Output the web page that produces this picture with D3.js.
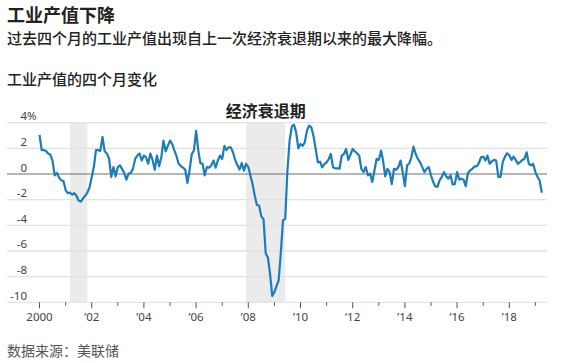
<!DOCTYPE html>
<html>
<head>
<meta charset="utf-8">
<script src="https://cdn.jsdelivr.net/npm/d3@7"></script>
<style>
  body { margin: 0; background: #fff; }
  svg { display: block; font-family: "Noto Sans CJK SC", "Noto Sans", sans-serif; }
  .num { font-family: "Noto Sans", "DejaVu Sans", sans-serif; }
</style>
</head>
<body>
<svg width="572" height="363"></svg>
<script>
// four-month change in industrial production, monthly from Jan 2000
var startMonth = "2000-01";
var ipChange = [
  3.05, 1.87, 1.87, 1.8, 1.6, 1.5, 1.05, -0.1, 0.08, -0.28, -0.5, -0.55,
  -1.25, -1.5, -1.45, -1.6, -1.5, -1.7, -2.07, -2.15, -1.9, -1.7, -1.45, -1.05,
  -0.23, 0.6, 1.87, 1.87, 1.8, 2.9, 1.77, 1.6, 1.2, -0.23, 0.54, -0.18,
  0.54, 0.67, 0.4, 0.08, -0.44, 0.03, 0.08, 0.4, 1.18, 1.44, 1.6, 1.05,
  1.44, 1.3, 0.8, 1.6, 1.1, 0.33, 1.44, 0.6, 1.3, 2.6, 1.77, 2.2,
  2.6, 2.33, 1.87, 1.4, 0.8, 0.62, 0.5, 0.35, -0.7, 0.28, 1.56, 1.82,
  3.36, 1.82, 0.85, 0.8, -0.1, 0.54, 0.5, 0.67, 1.05, 0.5, 1.05, 1.44,
  1.18, 2.2, 1.87, 2.08, 2.08, 1.7, 1.1, 0.7, 0.35, 0.86, 0.26, 0.8,
  0.55, -0.13, -0.78, -1.69, -2.42, -2.47, -3.3, -3.5, -6.2, -6.5, -7.8, -9.5,
  -9.2, -8.7, -8.3, -6.1, -3.6, -3.5, 0.2, 2.6, 3.7, 3.85, 3.25, 2.0,
  2.34, 2.2, 2.47, 3.38, 3.77, 3.64, 2.99, 1.95, 0.91, 0.96, 0.52, 0.78,
  0.91, 1.17, 1.56, 0.52, 0.44, 0.45, 0.41, 1.44, 1.56, 1.95, 1.1, 1.51,
  1.95, 1.77, 1.62, 1.44, 0.41, 0.15, 0.54, -0.1, 0.03, -0.62, 0.28, 1.18,
  1.1, 1.82, 1.05, -0.18, 0.41, 0.15, -0.79, 0.41, 0.33, 0.54, 1.05, 0.15,
  -0.95, 0.67, 0.8, 1.3, 2.13, 1.56, 1.18, 0.92, 0.54, 0.15, 0.41, 0.54,
  -0.1, -0.62, -0.95, -1.0, -0.49, -0.23, 0.15, -0.18, -0.36, -0.1, -0.82, -0.79,
  0.15, -0.44, -0.36, -0.44, -0.95, 0.08, 0.28, 0.41, 0.59, 0.59, 0.85, 1.3,
  1.36, 1.05, 1.44, 0.8, 1.0, 1.1, 1.05, -0.23, -0.23, 0.92, 1.36, 1.62,
  1.44, 1.1, 1.36, 1.1, 0.8, 0.92, 1.1, 1.18, 1.69, 0.8, 0.67, 0.8,
  0.15, -0.23, -0.49, -1.46
];
var recessions = [["2001-03", "2001-11"], ["2007-12", "2009-06"]];
var yTicks = [4, 2, 0, -2, -4, -6, -8, -10];
var majorYears = [2000, 2002, 2004, 2006, 2008, 2010, 2012, 2014, 2016, 2018];
var minorYears = [2001, 2003, 2005, 2007, 2009, 2011, 2013, 2015, 2017, 2019];

var parseMonth = d3.timeParse("%Y-%m");
var start = parseMonth(startMonth);
var data = ipChange.map(function(v, i) {
  return { date: d3.timeMonth.offset(start, i), value: v };
});

var svg = d3.select("svg");

var x = d3.scaleTime()
  .domain([new Date(2000, 0, 1), new Date(2018, 0, 1)])
  .range([39.5, 509.3]);
var y = d3.scaleLinear().domain([-10, 4]).range([302.3, 122.7]);

var gridLeft = 7, gridRight = 547;

// headings
svg.append("text").attr("x", 7).attr("y", 22)
  .attr("font-size", 18).attr("font-weight", 700).attr("fill", "#222")
  .text("工业产值下降");
svg.append("text").attr("x", 7).attr("y", 44)
  .attr("font-size", 15).attr("font-weight", 500).attr("fill", "#222")
  .text("过去四个月的工业产值出现自上一次经济衰退期以来的最大降幅。");
svg.append("text").attr("x", 7).attr("y", 85)
  .attr("font-size", 15).attr("font-weight", 500).attr("fill", "#222")
  .text("工业产值的四个月变化");

// recession bands
svg.selectAll("rect.rec")
  .data(recessions)
  .enter().append("rect")
  .attr("class", "rec")
  .attr("x", function(d) { return x(parseMonth(d[0])); })
  .attr("width", function(d) { return x(parseMonth(d[1])) - x(parseMonth(d[0])); })
  .attr("y", y(4))
  .attr("height", y(-10) - y(4))
  .attr("fill", "#ebebeb");

var rec2 = recessions[1];
svg.append("text")
  .attr("x", (x(parseMonth(rec2[0])) + x(parseMonth(rec2[1]))) / 2)
  .attr("y", 117)
  .attr("text-anchor", "middle")
  .attr("font-size", 16).attr("font-weight", 700).attr("fill", "#222")
  .text("经济衰退期");

// gridlines
svg.selectAll("line.grid")
  .data(yTicks.filter(function(d) { return d !== 0; }))
  .enter().append("line")
  .attr("class", "grid")
  .attr("x1", gridLeft).attr("x2", gridRight)
  .attr("y1", function(d) { return y(d); })
  .attr("y2", function(d) { return y(d); })
  .attr("stroke", "#e2e2e2").attr("stroke-width", 1.3);

// y labels
svg.selectAll("text.ylab")
  .data(yTicks)
  .enter().append("text")
  .attr("class", "ylab num")
  .attr("x", 27)
  .attr("y", function(d) { return y(d) - 2.5; })
  .attr("text-anchor", "end")
  .attr("font-size", 11.5).attr("fill", "#444")
  .text(function(d) { return d; });
svg.append("text")
  .attr("class", "num")
  .attr("x", 27).attr("y", y(4) - 2.5)
  .attr("font-size", 11.5).attr("fill", "#444")
  .text("%");

// zero line
svg.append("line")
  .attr("x1", gridLeft).attr("x2", gridRight)
  .attr("y1", y(0)).attr("y2", y(0))
  .attr("stroke", "#6f6f6f").attr("stroke-width", 1.2);

// x ticks
var base = y(-10);
svg.selectAll("line.major")
  .data(majorYears)
  .enter().append("line")
  .attr("class", "major")
  .attr("x1", function(d) { return x(new Date(d, 0, 1)); })
  .attr("x2", function(d) { return x(new Date(d, 0, 1)); })
  .attr("y1", base).attr("y2", base + 6)
  .attr("stroke", "#555").attr("stroke-width", 1);
svg.selectAll("line.minor")
  .data(minorYears)
  .enter().append("line")
  .attr("class", "minor")
  .attr("x1", function(d) { return x(new Date(d, 0, 1)); })
  .attr("x2", function(d) { return x(new Date(d, 0, 1)); })
  .attr("y1", base).attr("y2", base + 3.5)
  .attr("stroke", "#555").attr("stroke-width", 1);
svg.selectAll("text.xlab")
  .data(majorYears)
  .enter().append("text")
  .attr("class", "xlab num")
  .attr("x", function(d) { return x(new Date(d, 0, 1)); })
  .attr("y", 321)
  .attr("text-anchor", "middle")
  .attr("font-size", 11.5).attr("fill", "#444")
  .text(function(d) { return d === 2000 ? "2000" : "\u2019" + String(d).slice(2); });

// series line
var line = d3.line()
  .x(function(d) { return x(d.date); })
  .y(function(d) { return y(d.value); });
svg.append("path")
  .datum(data)
  .attr("d", line)
  .attr("fill", "none")
  .attr("stroke", "#1b7db8")
  .attr("stroke-width", 2.2)
  .attr("stroke-linejoin", "round");

// source
svg.append("text").attr("x", 7).attr("y", 356)
  .attr("font-size", 14).attr("fill", "#555")
  .text("数据来源：美联储");
</script>
</body>
</html>
